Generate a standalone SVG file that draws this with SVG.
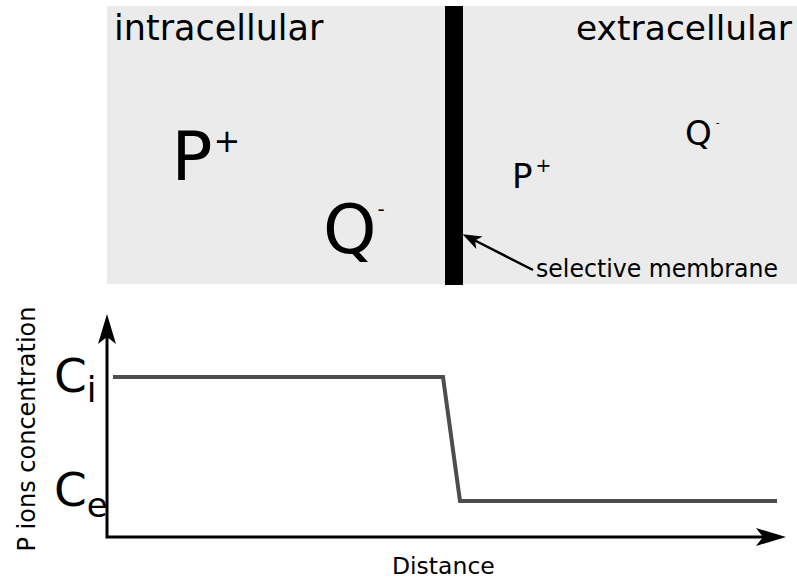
<svg xmlns="http://www.w3.org/2000/svg" width="797" height="579" viewBox="0 0 797 579">
<style>
text{font-family:"DejaVu Sans","Liberation Sans",sans-serif;fill:#000}
.axis{stroke:#000;stroke-width:3;fill:none}
.curve{stroke:#4d4d4d;stroke-width:4;fill:none;stroke-linejoin:miter}
.ptr{stroke:#000;stroke-width:2.5;fill:none}
</style>
<defs>
<marker id="bigArrow" markerUnits="userSpaceOnUse" markerWidth="30" markerHeight="18" viewBox="0 0 30 18" refX="7" refY="9" orient="auto">
<path d="M30,9 L0,0 L7,9 L0,18 Z" fill="#000"/>
</marker>
<marker id="smallArrow" markerUnits="userSpaceOnUse" markerWidth="19" markerHeight="14" viewBox="0 0 19 14" refX="5" refY="7" orient="auto">
<path d="M19,7 L0,0 L5,7 L0,14 Z" fill="#000"/>
</marker>
</defs>
<rect width="797" height="579" fill="#fff"/>
<g id="cell">
<rect x="107" y="6" width="690" height="278" fill="#ebebeb"/>
</g>
<g id="membrane">
<rect x="445" y="6" width="18" height="279" fill="#000"/>
</g>
<g id="label-intracellular"><text x="114" y="40" font-size="35">intracellular</text></g>
<g id="label-extracellular"><text x="576" y="40" font-size="34.5">extracellular</text></g>
<g id="ion-P-in"><text x="171.5" y="180" font-size="68">P<tspan font-size="32" dy="-28" dx="1">+</tspan></text></g>
<g id="ion-Q-in"><text x="323" y="253" font-size="68">Q<tspan font-size="20" dy="-37" dx="1">-</tspan></text></g>
<g id="ion-P-out"><text x="512" y="188" font-size="34">P<tspan font-size="19" dy="-16" dx="3">+</tspan></text></g>
<g id="ion-Q-out"><text x="685" y="145" font-size="34">Q<tspan font-size="11" dy="-19" dx="4">-</tspan></text></g>
<g id="label-membrane"><text x="536" y="277" font-size="25" textLength="242" lengthAdjust="spacingAndGlyphs">selective membrane</text></g>
<g id="label-Ci"><text x="54" y="392" font-size="47">C<tspan font-size="35" dy="10">i</tspan></text></g>
<g id="label-Ce"><text x="54" y="506" font-size="47">C<tspan font-size="34" dy="11">e</tspan></text></g>
<g id="label-yaxis"><text transform="translate(35,429) rotate(-90)" text-anchor="middle" font-size="24">P ions concentration</text></g>
<g id="label-xaxis"><text x="392" y="574" font-size="23.5">Distance</text></g>
<g id="connectors">
<path class="axis" d="M107,338 L107,537 L763,537" marker-end="url(#bigArrow)"/>
<path class="axis" d="M107,338 L107,337" marker-end="url(#bigArrow)"/>
<path class="curve" d="M113,377 L443,377 L460,501 L777,501"/>
<path class="ptr" d="M533,270 L475,240.5" marker-end="url(#smallArrow)"/>
</g>
</svg>
